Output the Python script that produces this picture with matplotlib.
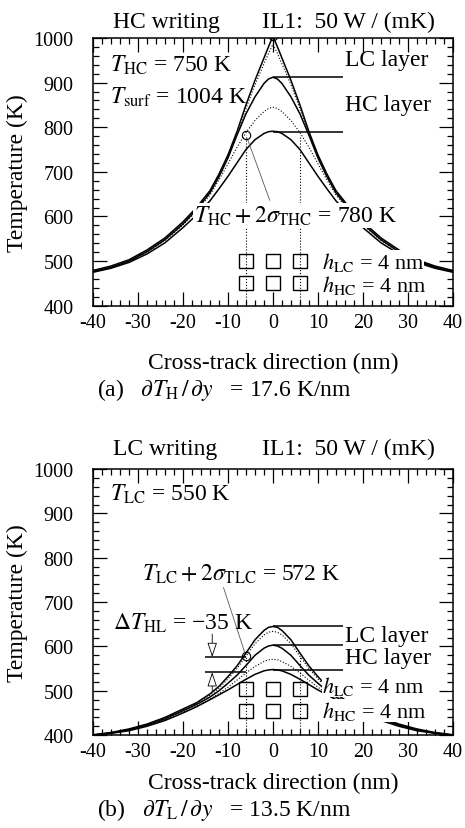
import matplotlib
matplotlib.use("Agg")
import matplotlib.pyplot as plt
from matplotlib.ticker import MultipleLocator

plt.rcParams['font.family'] = ['Liberation Serif', 'DejaVu Serif']
plt.rcParams['mathtext.fontset'] = 'stix'
plt.rcParams['axes.unicode_minus'] = False

# cross-track positions (nm)
x = [-40, -36, -32, -28, -24, -20, -17, -14, -12, -10, -8, -6, -4, -2, -1, 0,
     1, 2, 4, 6, 8, 10, 12, 14, 17, 20, 24, 28, 32, 36, 40]

# (a) HC writing
a_outer = [479, 489, 503, 525, 552, 588, 620, 658, 695, 738, 790, 850, 905, 955, 980, 1004,
           980, 955, 905, 850, 790, 738, 695, 658, 620, 588, 552, 525, 503, 489, 479]
a_dot1 = [477, 486, 500, 522, 549, 585, 617, 655, 691, 733, 784, 842, 895, 942, 965, 986,
          965, 942, 895, 842, 784, 733, 691, 655, 617, 585, 549, 522, 500, 486, 477]
a_mid = [477, 486, 500, 521, 548, 583, 615, 653, 689, 731, 782, 830, 868, 898, 908, 912,
         908, 898, 868, 830, 782, 731, 689, 653, 615, 583, 548, 521, 500, 486, 477]
a_dot2 = [476, 485, 499, 520, 546, 581, 612, 648, 682, 718, 755, 788, 815, 835, 842, 845,
          842, 835, 815, 788, 755, 718, 682, 648, 612, 581, 546, 520, 499, 485, 476]
a_low = [475, 484, 497, 516, 541, 575, 603, 635, 662, 690, 720, 750, 772, 786, 790, 791,
         790, 786, 772, 750, 720, 690, 662, 635, 603, 575, 541, 516, 497, 484, 475]

# (b) LC writing
b_outer = [401, 406, 414, 425, 440, 459, 473, 493, 510, 532, 556, 585, 615, 636, 643, 645,
           643, 636, 615, 585, 556, 532, 510, 493, 473, 459, 440, 425, 414, 406, 401]
b_dot1 = [400, 405, 413, 424, 439, 457, 471, 490, 506, 527, 550, 578, 606, 626, 632, 634,
          632, 626, 606, 578, 550, 527, 506, 490, 471, 457, 439, 424, 413, 405, 400]
b_mid = [400, 405, 412, 423, 437, 455, 469, 486, 500, 517, 535, 557, 580, 596, 601, 603,
         601, 596, 580, 557, 535, 517, 500, 486, 469, 455, 437, 423, 412, 405, 400]
b_dot2 = [400, 404, 411, 421, 435, 452, 465, 481, 494, 508, 524, 540, 555, 566, 570, 571,
          570, 566, 555, 540, 524, 508, 494, 481, 465, 452, 435, 421, 411, 404, 400]
b_low = [400, 404, 410, 420, 433, 450, 464, 480, 491, 502, 514, 526, 537, 545, 547, 548,
         547, 545, 537, 526, 514, 502, 491, 480, 464, 450, 433, 420, 410, 404, 400]

# layer peak levels, marked points, grain squares
a_levels = [912, 790]
b_levels = [645, 603, 547]
b_left_levels = [576, 542]
a_marks_x, a_marks_y = [0, -6], [1004, 783]
b_marks_x, b_marks_y = [-6], [578]
a_dot_top = 783
b_dot_top = 578
sq_x = [-6, 0, 6, -6, 0, 6]
a_sq_y = [501, 501, 501, 451, 451, 451]
b_sq_y = [504, 504, 504, 455, 455, 455]

FS = 17
HS = 16
TS = 14.5
white = dict(boxstyle='square,pad=0.05', fc='white', ec='none')
white0 = dict(boxstyle='square,pad=0.0', fc='white', ec='none')


def setup(ax):
    ax.set_xlim(-40, 40)
    ax.set_ylim(400, 1000)
    ax.xaxis.set_major_locator(MultipleLocator(10))
    ax.xaxis.set_minor_locator(MultipleLocator(2))
    ax.yaxis.set_major_locator(MultipleLocator(100))
    ax.yaxis.set_minor_locator(MultipleLocator(20))
    ax.tick_params(which='both', direction='in', top=True, right=True, width=0.9)
    ax.tick_params(which='major', length=10)
    ax.tick_params(which='minor', length=4.5)
    ax.tick_params(axis='x', pad=5, labelsize=TS)
    ax.tick_params(axis='y', pad=14, labelsize=TS)
    for s in ax.spines.values():
        s.set_linewidth(1.1)


def curves(ax, outer, dot1, mid, dot2, low):
    ax.plot(x, outer, 'k-', lw=1.1, zorder=2)
    ax.plot(x, dot1, 'k:', lw=0.8, zorder=2)
    ax.plot(x, mid, 'k-', lw=1.1, zorder=2)
    ax.plot(x, dot2, 'k:', lw=0.8, zorder=2)
    ax.plot(x, low, 'k-', lw=1.1, zorder=2)


fig = plt.figure(figsize=(4.65, 8.29), dpi=100)

# ---------- (a) ----------
ax = fig.add_axes([0.2, 0.630, 0.774, 0.323])
setup(ax)
curves(ax, a_outer, a_dot1, a_mid, a_dot2, a_low)
ax.hlines(a_levels, 0, 15.5, colors='k', lw=1.1)
ax.vlines([-6, 6], 400, a_dot_top, colors='k', linestyles=':', lw=0.8)
ax.plot(sq_x, a_sq_y, 's', ms=10, mfc='none', mec='k', mew=1.0)
ax.plot(a_marks_x, a_marks_y, 'o', ms=6, mfc='none', mec='k', mew=0.8, zorder=4)
ax.annotate('', xy=(a_marks_x[0], a_marks_y[0]), xytext=(-10.7, 899),
            arrowprops=dict(arrowstyle='-', lw=0.6, color='0.35', shrinkA=0, shrinkB=3))
ax.annotate('', xy=(a_marks_x[1], a_marks_y[1]), xytext=(-0.7, 636),
            arrowprops=dict(arrowstyle='-', lw=0.6, color='0.35', shrinkA=0, shrinkB=3))
ax.text(-35.5, 1024, 'HC writing', fontsize=FS, va='baseline', clip_on=False)
ax.text(-2.5, 1024, 'IL1:  50 W / (mK)', fontsize=FS, va='baseline', clip_on=False)
ax.text(-36.2, 927, r'$T_{\rm HC}$ = 750 K', fontsize=FS, va='baseline')
ax.text(-36.2, 856, r'$T_{\rm surf}$ = 1004 K', fontsize=FS, va='baseline')
ax.text(16, 940, 'LC layer', fontsize=FS, va='baseline')
ax.text(16, 838, 'HC layer', fontsize=FS, va='baseline')
ax.text(-17.5, 588, r'$T_{\rm HC}+2\sigma_{\rm THC}$ = 780 K', fontsize=FS,
        va='baseline', bbox=white, zorder=3)
ax.text(10.9, 485, r'$h_{\rm LC}$ = 4 nm', fontsize=HS, va='baseline', bbox=white0, zorder=3)
ax.text(10.9, 434, r'$h_{\rm HC}$ = 4 nm', fontsize=HS, va='baseline')

fig.text(0.037, 0.791, 'Temperature (K)', rotation=90, fontsize=FS, ha='center', va='center')
fig.text(0.587, 0.562, 'Cross-track direction (nm)', fontsize=FS, ha='center', va='center')
fig.text(0.209, 0.530, r'(a)   $\partial T_{\rm H}\,/\,\partial y$   = 17.6 K/nm', fontsize=FS,
         ha='left', va='center')

# ---------- (b) ----------
ax = fig.add_axes([0.2, 0.112, 0.774, 0.321])
setup(ax)
curves(ax, b_outer, b_dot1, b_mid, b_dot2, b_low)
ax.hlines(b_levels, 0, 15.5, colors='k', lw=1.1)
ax.hlines(b_left_levels, -15, -6, colors='k', lw=1.1)
ax.vlines([-6, 6], 400, b_dot_top, colors='k', linestyles=':', lw=0.8)
ax.plot(sq_x, b_sq_y, 's', ms=10, mfc='none', mec='k', mew=1.0)
ax.plot(b_marks_x, b_marks_y, 'o', ms=6, mfc='none', mec='k', mew=0.8, zorder=4)
ax.annotate('', xy=(b_marks_x[0], b_marks_y[0]), xytext=(-11, 733),
            arrowprops=dict(arrowstyle='-', lw=0.6, color='0.35', shrinkA=0, shrinkB=3))
arrow = dict(arrowstyle='-|>,head_length=0.9,head_width=0.3', lw=0.6, fc='white',
             ec='k', shrinkA=0, shrinkB=0)
ax.annotate('', xy=(-13.5, b_left_levels[0]), xytext=(-13.5, 628), arrowprops=arrow)
ax.annotate('', xy=(-13.5, b_left_levels[1]), xytext=(-13.5, 500), arrowprops=arrow)
ax.text(-35.5, 1034, 'LC writing', fontsize=FS, va='baseline', clip_on=False)
ax.text(-2.5, 1034, 'IL1:  50 W / (mK)', fontsize=FS, va='baseline', clip_on=False)
ax.text(-36.2, 931, r'$T_{\rm LC}$ = 550 K', fontsize=FS, va='baseline')
ax.text(-29.1, 750, r'$T_{\rm LC}+2\sigma_{\rm TLC}$ = 572 K', fontsize=FS, va='baseline')
ax.text(-35.5, 640, '$\\Delta T_{\\rm HL}$ = \u221235 K', fontsize=FS, va='baseline')
ax.text(16, 612, 'LC layer', fontsize=FS, va='baseline')
ax.text(16, 563, 'HC layer', fontsize=FS, va='baseline')
ax.text(10.9, 497, r'$h_{\rm LC}$ = 4 nm', fontsize=HS, va='baseline', bbox=white0, zorder=4)
ax.text(10.9, 441, r'$h_{\rm HC}$ = 4 nm', fontsize=HS, va='baseline', bbox=white0, zorder=3)

fig.text(0.037, 0.273, 'Temperature (K)', rotation=90, fontsize=FS, ha='center', va='center')
fig.text(0.587, 0.0555, 'Cross-track direction (nm)', fontsize=FS, ha='center', va='center')
fig.text(0.209, 0.023, r'(b)   $\partial T_{\rm L}\,/\,\partial y$   = 13.5 K/nm', fontsize=FS,
         ha='left', va='center')

fig.savefig('out.png', dpi=100)
